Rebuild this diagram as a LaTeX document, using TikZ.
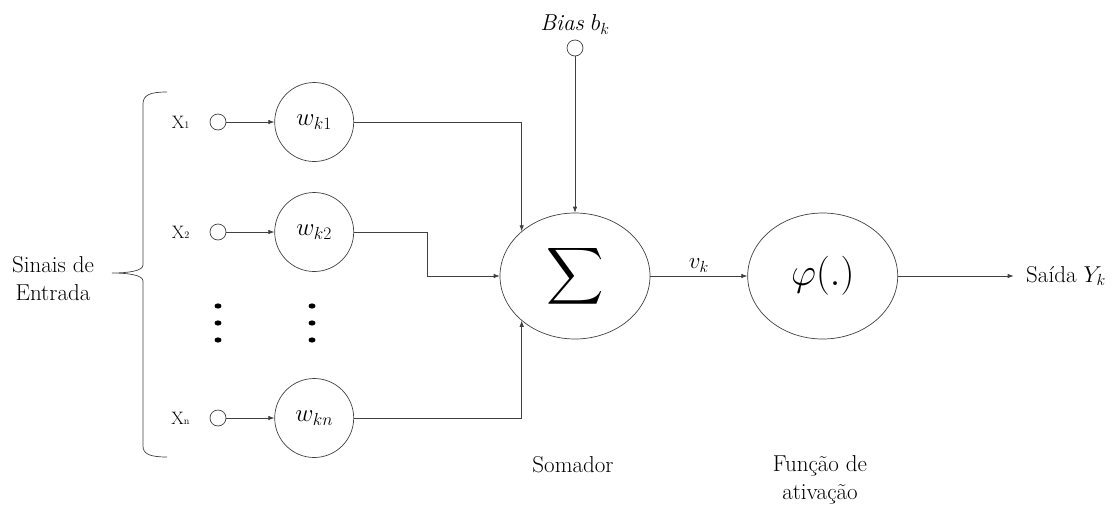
\documentclass[tikz,border=0pt]{standalone}
\usepackage{fix-cm}
\usepackage{amsmath}
\usepackage{fontspec}
\usetikzlibrary{positioning,arrows.meta,shapes.geometric}

\begin{document}
\begin{tikzpicture}[x=1pt, y=-1pt, node distance=48pt, >={Latex[length=6pt,width=4.5pt]},
  every node/.style={font=\rmfamily\fontsize{23}{28}\selectfont},
  wire/.style={draw=black!75, line width=0.7pt},
  port/.style={circle, draw=black!75, line width=0.7pt, minimum size=16pt, inner sep=0pt},
  weight/.style={circle, draw=black!75, line width=0.7pt, minimum size=79pt, inner sep=0pt, font=\fontsize{25}{28}\selectfont},
  block/.style={ellipse, draw=black!75, line width=0.7pt, minimum width=150pt, minimum height=126pt, inner sep=0pt},
  xlabel/.style={font=\rmfamily\fontsize{18}{20}\selectfont, inner sep=0pt}]
\useasboundingbox (0,0) rectangle (1112,504);

% entradas e pesos
\node[port] (In1) at (218,122) {};
\node[port] (In2) at (218,232) {};
\node[port] (Inn) at (218,418) {};
\node[weight, right=of In1] (W1) {$w_{k1}$};
\node[weight, right=of In2] (W2) {$w_{k2}$};
\node[weight, right=of Inn] (Wn) {$w_{kn}$};
\node[xlabel, left=20pt of In1] (X1) {X{\fontsize{10}{10}\selectfont 1}};
\node[xlabel, left=20pt of In2] (X2) {X{\fontsize{10}{10}\selectfont 2}};
\node[xlabel, left=20pt of Inn] (Xn) {X{\fontsize{10}{10}\selectfont n}};
\foreach \y in {306,323,340} {
  \fill (218,\y) ellipse (3.5pt and 2.6pt);
  \fill (312,\y) ellipse (3.5pt and 2.6pt);
}

% chave
\draw[wire] (167,92) .. controls (150,92) and (143,95) .. (143,104)
  -- (143,265) .. controls (143,271) and (128,273) .. (112,273)
  .. controls (128,273) and (143,275) .. (143,281)
  -- (143,446) .. controls (143,454) and (150,457) .. (167,457);
\node[align=center] (Sinais) at (53,279) {Sinais de\\Entrada};

% somador e ativacao
\node[block] (Sum) at (575,276) {\scalebox{1.6}{\fontsize{38}{40}\selectfont$\displaystyle\sum$}};
\node[block, right=97pt of Sum] (Phi) {\fontsize{39}{40}\selectfont$\varphi(.)$};
\node[port] (Bias) at (575,48) {};
\node[above=2pt of Bias] (BiasLbl) {\textit{Bias} $b_k$};
\node (Saida) at (1066,276) {Saída $Y_k$};
\node (Somador) at (573,465) {Somador};
\node[align=center] (Funcao) at (820,480) {Função de\\ativação};

\foreach \i in {1,2,n}
  \draw[wire,->] (In\i) -- (W\i);
\draw[wire,->] (W1) -| (Sum.140);
\draw[wire,->] (W2.east) -- ++(73,0) |- (Sum);
\draw[wire,->] (Wn) -| (Sum.220);
\draw[wire,->] (Bias) -- (Sum);
\draw[wire,->] (Sum) -- node[above] (vk) {$v_k$} (Phi);
\draw[wire,->] (Phi) -- ([xshift=-9pt]Saida.west);
\end{tikzpicture}
\end{document}
